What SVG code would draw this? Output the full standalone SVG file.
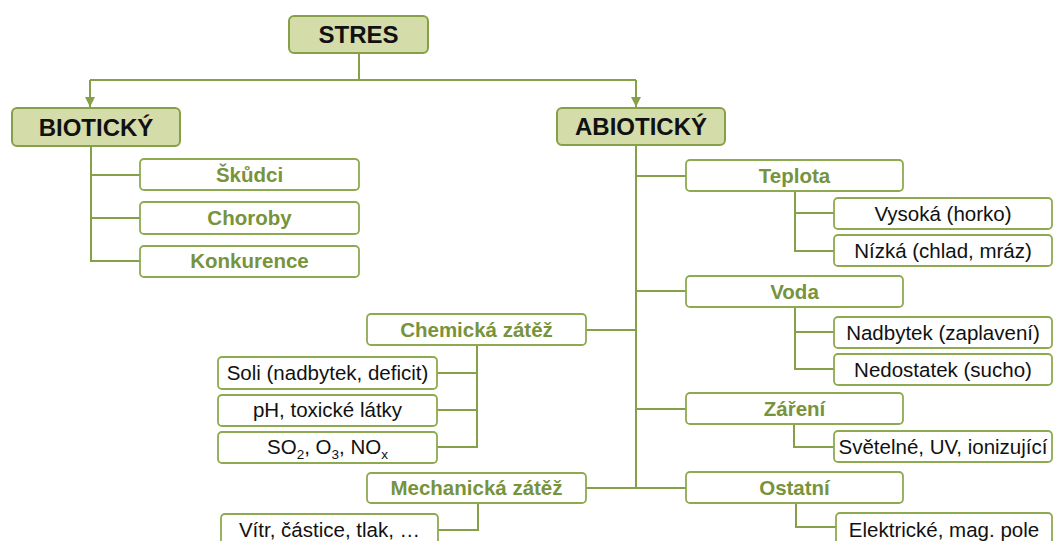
<svg xmlns="http://www.w3.org/2000/svg" width="1053" height="541" viewBox="0 0 1053 541">
<style>
.hdr{fill:#d4dcaa;stroke:#86a048;stroke-width:2}
.box{fill:#ffffff;stroke:#8eaa50;stroke-width:1.8}
.ht{font-family:"Liberation Sans",Arial,sans-serif;font-weight:bold;font-size:24px;fill:#111;text-anchor:middle}
.gt{font-family:"Liberation Sans",Arial,sans-serif;font-weight:bold;font-size:20.5px;fill:#77933c;text-anchor:middle}
.bt{font-family:"Liberation Sans",Arial,sans-serif;font-size:20.5px;fill:#111;text-anchor:middle}
.ln{fill:none;stroke:#86a048;stroke-width:2}
</style>
<defs>
<marker id="arr" viewBox="0 0 10 10" refX="10" refY="5" markerWidth="10" markerHeight="10" markerUnits="userSpaceOnUse" orient="auto">
<path d="M0,0 L10,5 L0,10 Z" fill="#86a048"/>
</marker>
</defs>
<g id="connectors">
<path class="ln" d="M359,53 V80"/>
<path class="ln" d="M90,80 H636"/>
<path class="ln" d="M90,80 V107" marker-end="url(#arr)"/>
<path class="ln" d="M636,80 V107" marker-end="url(#arr)"/>
<path class="ln" d="M91,146 V261 H140 M91,175 H140 M91,218 H140"/>
<path class="ln" d="M636,145 V488 M636,176 H686 M636,291 H686 M636,409 H686 M636,488 H686 M586,330 H636 M586,488 H636"/>
<path class="ln" d="M795,191 V251 H834 M795,213 H834"/>
<path class="ln" d="M795,307 V369 H834 M795,332 H834"/>
<path class="ln" d="M794,424 V447 H834"/>
<path class="ln" d="M796,503 V527 H836"/>
<path class="ln" d="M477,345 V447 H437 M477,373 H437 M477,410 H437"/>
<path class="ln" d="M478,503 V530 H438"/>
</g>
<g id="stres"><rect class="hdr" x="289" y="16" width="139" height="37" rx="5"/><text class="ht" x="358.5" y="43">STRES</text></g>
<g id="bioticky"><rect class="hdr" x="12" y="108" width="168" height="38" rx="5"/><text class="ht" x="96" y="136">BIOTICKÝ</text></g>
<g id="abioticky"><rect class="hdr" x="557" y="108" width="168" height="37" rx="5"/><text class="ht" x="641" y="135">ABIOTICKÝ</text></g>
<g id="skudci"><rect class="box" x="140" y="159" width="219" height="31" rx="4"/><text class="gt" x="249.5" y="182">Škůdci</text></g>
<g id="choroby"><rect class="box" x="140" y="202" width="219" height="32" rx="4"/><text class="gt" x="249.5" y="225">Choroby</text></g>
<g id="konkurence"><rect class="box" x="140" y="246" width="219" height="31" rx="4"/><text class="gt" x="249.5" y="268">Konkurence</text></g>
<g id="teplota"><rect class="box" x="686" y="160" width="217" height="31" rx="4"/><text class="gt" x="794.5" y="183">Teplota</text></g>
<g id="vysoka"><rect class="box" x="834" y="198" width="218" height="31" rx="4"/><text class="bt" x="943" y="221">Vysoká (horko)</text></g>
<g id="nizka"><rect class="box" x="834" y="235" width="218" height="31" rx="4"/><text class="bt" x="943" y="258">Nízká (chlad, mráz)</text></g>
<g id="voda"><rect class="box" x="686" y="276" width="217" height="31" rx="4"/><text class="gt" x="794.5" y="299">Voda</text></g>
<g id="nadbytek"><rect class="box" x="834" y="317" width="218" height="31" rx="4"/><text class="bt" x="943" y="340">Nadbytek (zaplavení)</text></g>
<g id="nedostatek"><rect class="box" x="834" y="354" width="218" height="31" rx="4"/><text class="bt" x="943" y="377">Nedostatek (sucho)</text></g>
<g id="zareni"><rect class="box" x="686" y="393" width="217" height="31" rx="4"/><text class="gt" x="794.5" y="416">Záření</text></g>
<g id="svetelne"><rect class="box" x="834" y="431" width="218" height="31" rx="4"/><text class="bt" x="943" y="454">Světelné, UV, ionizující</text></g>
<g id="ostatni"><rect class="box" x="686" y="472" width="217" height="31" rx="4"/><text class="gt" x="794.5" y="495">Ostatní</text></g>
<g id="elektricke"><rect class="box" x="836" y="513" width="216" height="34" rx="4"/><text class="bt" x="944" y="537">Elektrické, mag. pole</text></g>
<g id="chemicka"><rect class="box" x="367" y="314" width="219" height="31" rx="4"/><text class="gt" x="476.5" y="337">Chemická zátěž</text></g>
<g id="soli"><rect class="box" x="218" y="357" width="219" height="32" rx="4"/><text class="bt" x="327.5" y="380">Soli (nadbytek, deficit)</text></g>
<g id="ph"><rect class="box" x="218" y="395" width="219" height="31" rx="4"/><text class="bt" x="327.5" y="417">pH, toxické látky</text></g>
<g id="so2"><rect class="box" x="218" y="432" width="219" height="31" rx="4"/><text class="bt" x="327.5" y="454">SO<tspan font-size="13.5" dy="5">2</tspan><tspan dy="-5">, O</tspan><tspan font-size="13.5" dy="5">3</tspan><tspan dy="-5">, NO</tspan><tspan font-size="13.5" dy="5">x</tspan></text></g>
<g id="mechanicka"><rect class="box" x="367" y="473" width="219" height="30" rx="4"/><text class="gt" x="476.5" y="495">Mechanická zátěž</text></g>
<g id="vitr"><rect class="box" x="221" y="514" width="217" height="34" rx="4"/><text class="bt" x="329.5" y="537">Vítr, částice, tlak, …</text></g>
</svg>
